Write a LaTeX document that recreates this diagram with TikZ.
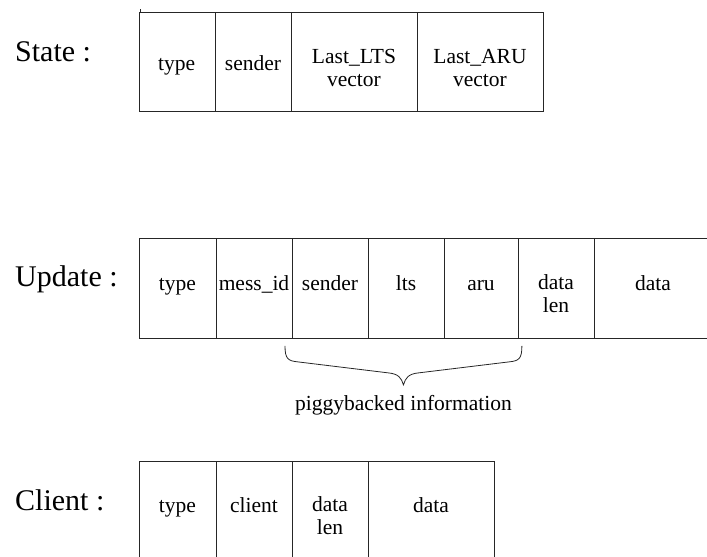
\documentclass[tikz,border=0pt]{standalone}
\usepackage{fontspec}
\setmainfont{Liberation Serif}
\usetikzlibrary{positioning, calc}
\tikzset{
	field/.style   ={rectangle, draw=black!85, line width=0.9pt, anchor=north west, inner sep=0pt},
	fieldtxt/.style={anchor=north, align=center, inner sep=0pt, font=\fontsize{21.5}{23}\selectfont, execute at begin node=\strut},
	rowlab/.style  ={anchor=base west, inner sep=0pt, font=\fontsize{30}{34}\selectfont},
	brace/.style   ={draw=black!85, line width=0.8pt},
}

\begin{document}
\begin{tikzpicture}[x=1pt, y=1pt]
	\useasboundingbox (0,0) rectangle (707,557);
	\clip (0,0) rectangle (707,557);
	% State record
	\node[rowlab] (lstate) at (15,495) {State :};
	\foreach \i/\xa/\xb/\yb/\lab in {
		1/138.5/215/487/type,
		2/215/291/487/sender,
		3/291/417/492/{Last\_LTS\\vector},
		4/417/543/492/{Last\_ARU\\vector}} {
		\pgfmathsetmacro{\cw}{\xb-\xa}
		\node[field, minimum width=\cw pt, minimum height=98.5pt] (st\i) at (\xa,544.5) {};
		\node[fieldtxt] (st\i-t) at ({(\xa+\xb)/2},\yb+16.1) {\lab};
	}
	\draw[draw=black!85, line width=0.9pt] ($(st1.north west)+(1.5,0)$) coordinate (tk) -- ($(tk)+(0,3)$);
	% Update record
	\node[rowlab] (lupdate) at (15,270) {Update :};
	\foreach \i/\xa/\xb/\lab in {
		1/139/216/type,
		2/216/292/mess\_id,
		3/292/368/sender,
		4/368/444/lts,
		5/444/518/aru,
		6/518/594/{data\\len},
		7/594/712/data} {
		\pgfmathsetmacro{\cw}{\xb-\xa}
		\node[field, minimum width=\cw pt, minimum height=100pt] (up\i) at (\xa,319) {};
		\node[fieldtxt] (up\i-t) at ({(\xa+\xb)/2},267+16.1) {\lab};
	}
	% piggybacked brace
	\coordinate (brL) at ($(up3.south west)+(-7,-7)$);
	\coordinate (brR) at ($(up5.south east)+(3,-7)$);
	\coordinate (brT) at ($(brL)!0.5!(brR)+(0,-39)$);
	\draw[brace] (brL) .. controls ($(brL)+(0,-13)$) and ($(brL)+(3,-15)$) .. ($(brL)+(13,-16)$)
		-- ($(brT)+(-15,12)$) .. controls ($(brT)+(-5,11)$) and ($(brT)+(-2,7)$) .. (brT)
		.. controls ($(brT)+(2,7)$) and ($(brT)+(5,11)$) .. ($(brT)+(15,12)$)
		-- ($(brR)+(-13,-16)$) .. controls ($(brR)+(-3,-15)$) and ($(brR)+(0,-13)$) .. (brR);
	\node[fieldtxt, anchor=base, execute at begin node={}] (piggy) at ($(brT)+(0,-26)$) {piggybacked information};
	% Client record
	\node[rowlab] (lclient) at (15,46) {Client :};
	\foreach \i/\xa/\xb/\lab in {
		1/139/216/type,
		2/216/292/client,
		3/292/368/{data\\len},
		4/368/494/data} {
		\pgfmathsetmacro{\cw}{\xb-\xa}
		\node[field, minimum width=\cw pt, minimum height=130pt] (cl\i) at (\xa,96) {};
		\node[fieldtxt] (cl\i-t) at ({(\xa+\xb)/2},45+16.1) {\lab};
	}
\end{tikzpicture}
\end{document}
